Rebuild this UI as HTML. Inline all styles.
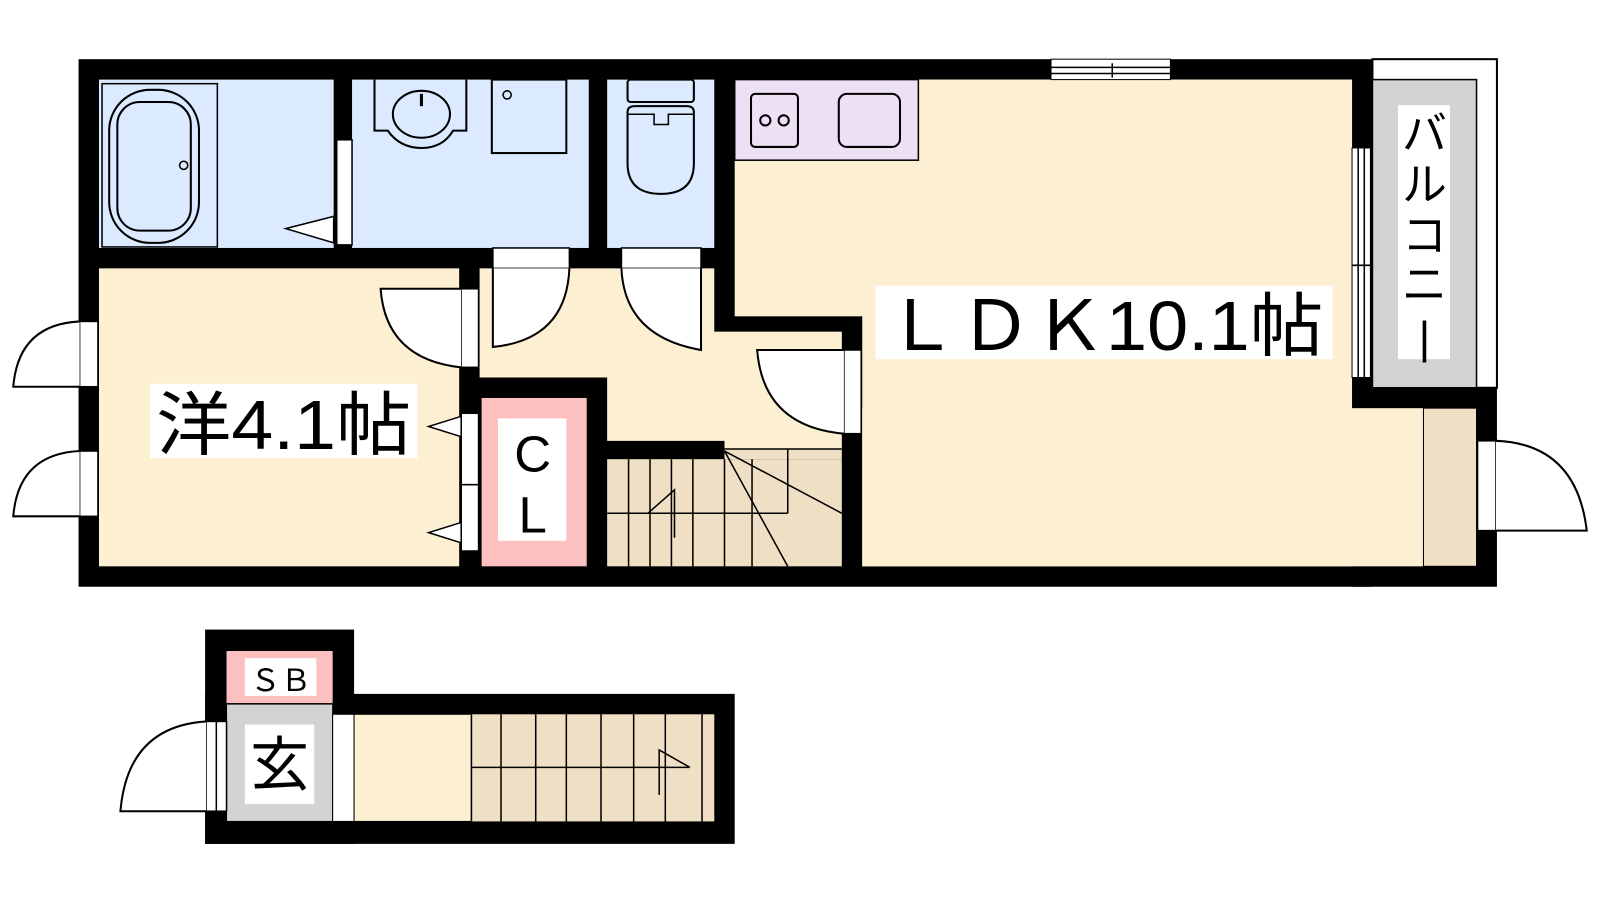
<!DOCTYPE html>
<html><head><meta charset="utf-8"><style>
html,body{margin:0;padding:0;background:#fff;}
svg{display:block}
text{font-family:"Liberation Sans","Noto Sans CJK JP",sans-serif;fill:#000}
</style></head><body>
<svg width="1600" height="900" viewBox="0 0 1568 882" preserveAspectRatio="none" xmlns="http://www.w3.org/2000/svg">
<!-- balcony -->
<rect x="1345" y="58" width="122" height="322" fill="#fff" stroke="#000" stroke-width="2"/>
<rect x="1345" y="78" width="102" height="302" fill="#d3d3d3" stroke="#000" stroke-width="1.5"/>
<!-- walls base -->
<rect x="77" y="58" width="1268" height="517" fill="#000"/>
<rect x="1325" y="380" width="142" height="195" fill="#000"/>
<!-- rooms -->
<rect x="97" y="78" width="230" height="165" fill="#dbeaff"/>
<rect x="345" y="78" width="232" height="165" fill="#dbeaff"/>
<rect x="595" y="78" width="105" height="165" fill="#dbeaff"/>
<rect x="97" y="263" width="353" height="292" fill="#fdf0d2"/>
<polygon points="470,263 700,263 700,325 825,325 825,440 710,440 710,432 595,432 595,370 470,370" fill="#fdf0d2"/>
<rect x="720" y="78" width="605" height="232" fill="#fdf0d2"/>
<rect x="845" y="78" width="480" height="477" fill="#fdf0d2"/>
<rect x="845" y="400" width="550" height="155" fill="#fdf0d2"/>
<rect x="1395" y="400" width="52" height="155" fill="#efdfc4" stroke="#000" stroke-width="1"/>
<rect x="472" y="390" width="103" height="165" fill="#fdc0c0"/>
<rect x="595" y="450" width="230" height="105" fill="#efdfc4"/>
<rect x="710" y="440" width="115" height="10" fill="#efdfc4"/>
<!-- kitchen -->
<rect x="720" y="78" width="180" height="79" fill="#ede0f5" stroke="#000" stroke-width="1.5"/>
<rect x="736" y="92" width="46" height="52" rx="4" fill="none" stroke="#000" stroke-width="2"/>
<circle cx="750" cy="118" r="5" fill="none" stroke="#000" stroke-width="2"/>
<circle cx="768" cy="118" r="5" fill="none" stroke="#000" stroke-width="2"/>
<rect x="822" y="92" width="60" height="52" rx="8" fill="none" stroke="#000" stroke-width="2"/>
<!-- bath fixtures -->
<rect x="100" y="82" width="113" height="160" fill="none" stroke="#000" stroke-width="1.5"/>
<rect x="107" y="88" width="88" height="150" rx="40" fill="none" stroke="#000" stroke-width="2"/>
<rect x="115" y="100" width="72" height="126" rx="22" fill="none" stroke="#000" stroke-width="2"/>
<circle cx="180" cy="162" r="4" fill="none" stroke="#000" stroke-width="1.5"/>
<polygon points="327,212 280,224 327,238" fill="#fff" stroke="#000" stroke-width="1.5"/>
<rect x="330" y="137" width="15" height="103" fill="#fff" stroke="#000" stroke-width="1.5"/>
<!-- washbasin -->
<path d="M367,78 V128 H380 Q392,145 413,145 Q434,145 444,128 H457 V78" fill="none" stroke="#000" stroke-width="2"/>
<ellipse cx="413" cy="112" rx="28" ry="23" fill="none" stroke="#000" stroke-width="2"/>
<line x1="413" y1="92" x2="413" y2="104" stroke="#000" stroke-width="3"/>
<rect x="482" y="78" width="73" height="72" fill="none" stroke="#000" stroke-width="2"/>
<circle cx="497" cy="93" r="4" fill="none" stroke="#000" stroke-width="1.5"/>
<!-- toilet -->
<rect x="615" y="78" width="65" height="22" rx="3" fill="none" stroke="#000" stroke-width="2"/>
<path d="M615,110 Q615,104 622,104 H673 Q680,104 680,110 V160 Q680,190 648,190 Q615,190 615,160 Z" fill="none" stroke="#000" stroke-width="2"/>
<path d="M615,112 H641 V122 H655 V112 H680" fill="none" stroke="#000" stroke-width="1.5"/>
<!-- top window -->
<rect x="1030" y="58" width="117" height="20" fill="#fff" stroke="#000" stroke-width="1"/>
<line x1="1030" y1="66" x2="1147" y2="66" stroke="#000" stroke-width="1.5"/>
<line x1="1030" y1="72" x2="1147" y2="72" stroke="#000" stroke-width="1.5"/>
<line x1="1090" y1="62" x2="1090" y2="76" stroke="#000" stroke-width="1.5"/>
<!-- right window -->
<rect x="1325" y="145" width="18" height="225" fill="#fff" stroke="#000" stroke-width="1"/>
<line x1="1331" y1="145" x2="1331" y2="370" stroke="#000" stroke-width="1.5"/>
<line x1="1337" y1="145" x2="1337" y2="370" stroke="#000" stroke-width="1.5"/>
<line x1="1325" y1="260" x2="1343" y2="260" stroke="#000" stroke-width="1.5"/>
<!-- left exterior doors -->
<rect x="78" y="315" width="18" height="64" fill="#fff" stroke="#000" stroke-width="1.5"/>
<path d="M78,315 Q18,318 13,379 H78" fill="#fff" stroke="#000" stroke-width="2"/>
<rect x="78" y="442" width="18" height="64" fill="#fff" stroke="#000" stroke-width="1.5"/>
<path d="M78,442 Q18,445 13,506 H78" fill="#fff" stroke="#000" stroke-width="2"/>
<!-- right exterior door -->
<rect x="1448" y="432" width="18" height="88" fill="#fff" stroke="#000" stroke-width="1.5"/>
<path d="M1466,432 Q1545,435 1555,520 H1466" fill="#fff" stroke="#000" stroke-width="2"/>
<!-- interior doors -->
<rect x="483" y="243" width="75" height="20" fill="#fff" stroke="#000" stroke-width="1.5"/>
<path d="M483,263 V340 Q555,333 558,263" fill="#fff" stroke="#000" stroke-width="2"/>
<rect x="609" y="243" width="78" height="20" fill="#fff" stroke="#000" stroke-width="1.5"/>
<path d="M609,263 Q612,330 687,343 V263" fill="#fff" stroke="#000" stroke-width="2"/>
<rect x="452" y="283" width="17" height="77" fill="#fff" stroke="#000" stroke-width="1.5"/>
<path d="M452,283 H373 Q378,352 452,360" fill="#fff" stroke="#000" stroke-width="2"/>
<rect x="827" y="343" width="17" height="82" fill="#fff" stroke="#000" stroke-width="1.5"/>
<path d="M827,343 H742 Q748,418 827,425" fill="#fff" stroke="#000" stroke-width="2"/>
<!-- CL sliding doors -->
<rect x="452" y="405" width="17" height="70" fill="#fff" stroke="#000" stroke-width="1.5"/>
<rect x="452" y="475" width="17" height="65" fill="#fff" stroke="#000" stroke-width="1.5"/>
<polygon points="452,408 420,418 452,428" fill="#fff" stroke="#000" stroke-width="1.5"/>
<polygon points="452,512 420,522 452,532" fill="#fff" stroke="#000" stroke-width="1.5"/>
<!-- stairs -->
<g stroke="#000" stroke-width="1.5" fill="none">
<line x1="616" y1="450" x2="616" y2="555"/><line x1="637" y1="450" x2="637" y2="555"/>
<line x1="658" y1="450" x2="658" y2="555"/><line x1="679" y1="450" x2="679" y2="555"/>
<line x1="710" y1="450" x2="710" y2="555"/><line x1="737" y1="450" x2="737" y2="555"/>
<line x1="710" y1="440" x2="825" y2="440"/>
<line x1="772" y1="440" x2="772" y2="503"/>
<line x1="595" y1="503" x2="772" y2="503"/>
<line x1="710" y1="442" x2="825" y2="503"/>
<line x1="710" y1="442" x2="772" y2="555"/>
<polyline points="635,503 661,480 661,527"/>
</g>
<!-- labels -->
<rect x="147" y="376" width="262" height="73" fill="#fff"/>
<text x="278" y="440" font-size="68" text-anchor="middle" textLength="250" lengthAdjust="spacingAndGlyphs">洋4.1帖</text>
<rect x="858" y="280" width="448" height="72" fill="#fff"/>
<text x="1082" y="343" font-size="68" text-anchor="middle" textLength="430" lengthAdjust="spacingAndGlyphs">ＬＤＫ10.1帖</text>
<rect x="488" y="410" width="67" height="120" fill="#fff"/>
<text x="522" y="462" font-size="50" text-anchor="middle">C</text>
<text x="522" y="522" font-size="50" text-anchor="middle">L</text>
<rect x="1370" y="103" width="51" height="249" fill="#fff"/>
<text x="1396" y="146" font-size="44" text-anchor="middle">バ</text>
<text x="1396" y="196" font-size="44" text-anchor="middle">ル</text>
<text x="1396" y="246" font-size="44" text-anchor="middle">コ</text>
<text x="1396" y="294" font-size="44" text-anchor="middle">ニ</text>
<text x="1396" y="346" font-size="44" text-anchor="middle">|</text>
<!-- bottom unit -->
<rect x="201" y="617" width="146" height="210" fill="#000"/>
<rect x="201" y="680" width="519" height="147" fill="#000"/>
<rect x="222" y="638" width="104" height="51" fill="#fdc0c0"/>
<rect x="240" y="645" width="70" height="37" fill="#fff"/>
<text x="275" y="677" font-size="30" text-anchor="middle">ＳＢ</text>
<rect x="222" y="690" width="104" height="115" fill="#d3d3d3" stroke="#000" stroke-width="1"/>
<rect x="326" y="700" width="21" height="105" fill="#fff" stroke="#000" stroke-width="1"/>
<rect x="347" y="700" width="115" height="105" fill="#fdf0d2" stroke="#000" stroke-width="1"/>
<rect x="462" y="700" width="238" height="105" fill="#efdfc4"/>
<g stroke="#000" stroke-width="1.5" fill="none">
<line x1="462" y1="700" x2="462" y2="805"/><line x1="491" y1="700" x2="491" y2="805"/>
<line x1="525" y1="700" x2="525" y2="805"/><line x1="555" y1="700" x2="555" y2="805"/>
<line x1="589" y1="700" x2="589" y2="805"/><line x1="621" y1="700" x2="621" y2="805"/>
<line x1="652" y1="700" x2="652" y2="805"/><line x1="688" y1="700" x2="688" y2="805"/>
<line x1="462" y1="752" x2="676" y2="752"/>
<polyline points="646,779 646,735 676,752"/>
</g>
<rect x="240" y="710" width="68" height="78" fill="#fff"/>
<text x="274" y="770" font-size="58" text-anchor="middle">玄</text>
<rect x="202" y="707" width="20" height="88" fill="#fff" stroke="#000" stroke-width="1.5"/>
<line x1="212" y1="707" x2="212" y2="795" stroke="#000" stroke-width="1.5"/>
<path d="M202,707 Q125,712 118,795 H202" fill="#fff" stroke="#000" stroke-width="2"/>
</svg>
</body></html>
